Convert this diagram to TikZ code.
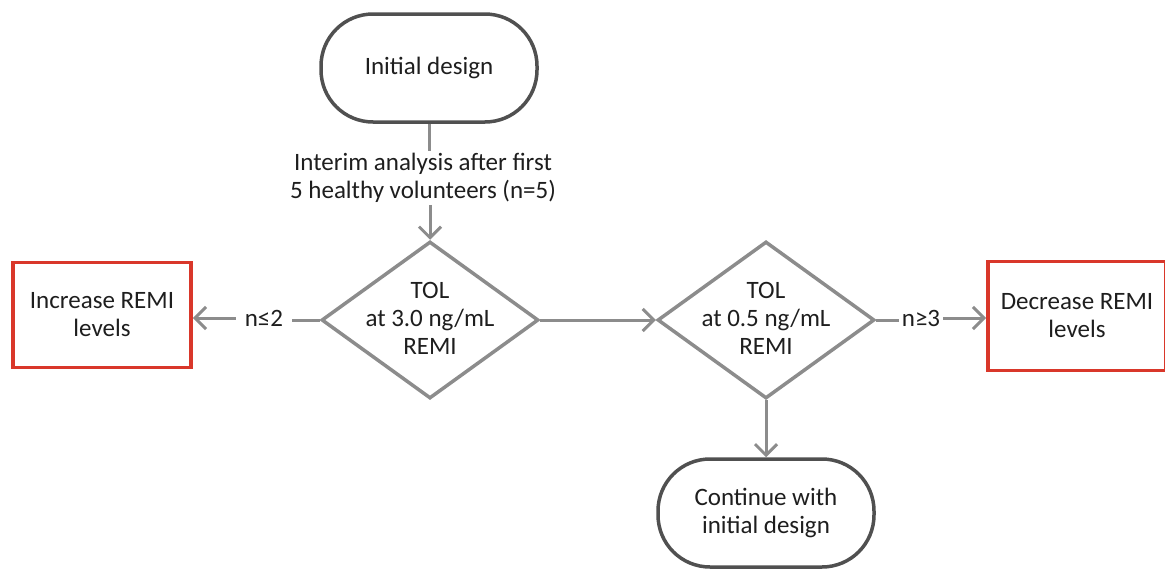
\documentclass[tikz,border=0pt]{standalone}
\usepackage{fontspec}
\setmainfont{Carlito}
\usetikzlibrary{arrows.meta,shapes.geometric}
\definecolor{termgray}{HTML}{505050}
\definecolor{linegray}{HTML}{8C8C8C}
\definecolor{boxred}{HTML}{D9372A}
\definecolor{txt}{HTML}{1E1E1E}
\begin{document}
\begin{tikzpicture}[x=1pt,y=-1pt,
  every node/.style={font=\fontsize{25}{28}\selectfont, text=txt},
  term/.style={draw=termgray, line width=3.5pt, rounded corners=52pt, minimum width=216pt, minimum height=108pt, align=center, fill=white},
  decis/.style={diamond, draw=linegray, line width=3.5pt, minimum width=217pt, minimum height=157pt, inner sep=0pt},
  dtext/.style={align=center, inner sep=0pt},
  redbox/.style={draw=boxred, line width=3.8pt, minimum width=178pt, minimum height=105pt, align=center},
  conn/.style={draw=linegray, line width=3pt},
  arr/.style={conn, -{Straight Barb[length=11pt,width=22pt,line width=3pt]}},
  lab/.style={inner ysep=2pt}
]
\useasboundingbox (0,0) rectangle (1165,570);
\node[term] (init) at (429,68) {Initial design};
\node[align=center, inner sep=2pt] (interim) at (423,178) {Interim analysis after first\\5 healthy volunteers (n=5)};
\node[decis] (d1) at (430,320) {};
\node[dtext] (t1) at (430,318) {TOL\\at 3.0 ng/mL\\REMI};
\node[decis] (d2) at (766,320) {};
\node[dtext] (t2) at (766,318) {TOL\\at 0.5 ng/mL\\REMI};
\node[redbox] (inc) at (102,315) {Increase REMI\\levels};
\node[redbox, minimum height=109pt] (dec) at (1077,316) {Decrease REMI\\levels};
\node[term] (cont) at (766,513) {Continue with\\initial design};
\node[lab, inner xsep=9pt] (n1) at (264,318) {n≤2};
\node[lab, inner xsep=3pt] (n3) at (921,318) {n≥3};
\draw[conn] (init.south) -- (init.south |- interim.north);
\draw[arr] (d1.north |- interim.south) -- (d1.north);
\draw[arr] (d1.east) -- (d2.west);
\draw[conn] (d1.west) -- (d1.west -| n1.east);
\draw[arr] (n1.west) -- (inc.east |- n1.west);
\draw[conn] (d2.east) -- (d2.east -| n3.west);
\draw[arr] (n3.east) -- (dec.west |- n3.east);
\draw[arr] (d2.south) -- (cont.north);
\end{tikzpicture}
\end{document}
